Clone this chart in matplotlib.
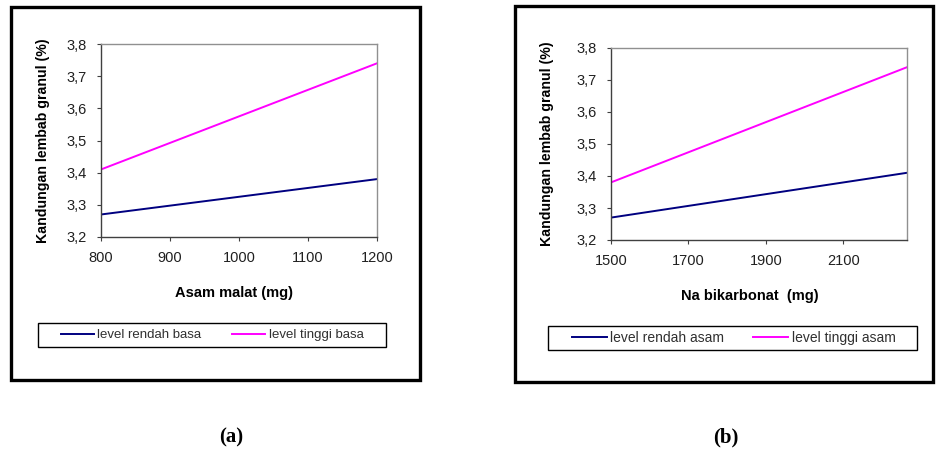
import matplotlib
matplotlib.use("Agg")
import matplotlib.pyplot as plt
from matplotlib.patches import Rectangle

plt.rcParams['font.family'] = ['Liberation Sans', 'DejaVu Sans']

# Panel (a)
x_a = [800, 1200]
low_a = [3.27, 3.38]
high_a = [3.41, 3.74]
xticks_a = [800, 900, 1000, 1100, 1200]
xlabel_a = "Asam malat (mg)"
legend_a = ["level rendah basa", "level tinggi basa"]

# Panel (b)
x_b = [1500, 2265]
low_b = [3.27, 3.41]
high_b = [3.38, 3.74]
xticks_b = [1500, 1700, 1900, 2100]
xlabel_b = "Na bikarbonat  (mg)"
legend_b = ["level rendah asam", "level tinggi asam"]

yticks = [3.2, 3.3, 3.4, 3.5, 3.6, 3.7, 3.8]
ylabel = "Kandungan lembab granul (%)"
captions = ["(a)", "(b)"]

W, H = 936, 455
fig = plt.figure(figsize=(W / 100, H / 100), dpi=100)


def fx(px):
    return px / W


def fy(py):
    return 1 - py / H


def panel(frame, plot, leg_box, leg_x, ylab_x, xlab_xy, x, low, high, xticks, xlabel,
          labels, cap_x, cap, leg_fs, colsp):
    fl, ft, fr, fb = frame
    fig.patches.append(Rectangle((fx(fl), fy(fb)), fx(fr - fl), (fb - ft) / H,
                                 transform=fig.transFigure, facecolor='white',
                                 edgecolor='black', linewidth=2.4, zorder=-5))
    l, t, r, b = plot
    ax = fig.add_axes([fx(l), fy(b), fx(r - l), (b - t) / H], zorder=2)
    ax.plot(x, low, color='#000080', lw=1.4)
    ax.plot(x, high, color='#FF00FF', lw=1.4)
    ax.set_xlim(x[0], x[-1])
    ax.set_ylim(3.2, 3.8)
    ax.set_xticks(xticks)
    ax.set_xticklabels([str(v) for v in xticks])
    ax.set_yticks(yticks)
    ax.set_yticklabels([f"{v:.1f}".replace('.', ',') for v in yticks])
    ax.tick_params(direction='out', length=3, width=0.8, color='#404040',
                   labelsize=10.5, pad=7, labelcolor='#202020')
    for s in ax.spines.values():
        s.set_color('#909090')
        s.set_linewidth(1.0)
    ax.spines['left'].set_color('#404040')
    ax.spines['bottom'].set_color('#404040')
    fig.text(fx(ylab_x), fy((t + b) / 2), ylabel, rotation=90, ha='center', va='center',
             fontsize=10.2, fontweight='bold')
    fig.text(fx(xlab_xy[0]), fy(xlab_xy[1]), xlabel, ha='center', va='center',
             fontsize=10.5, fontweight='bold')
    ll, lt, lr, lb = leg_box
    fig.patches.append(Rectangle((fx(ll), fy(lb)), fx(lr - ll), (lb - lt) / H,
                                 transform=fig.transFigure, facecolor='white',
                                 edgecolor='black', linewidth=1.0, zorder=-4))
    leg = ax.legend(labels, loc='center left', ncol=2,
                    bbox_to_anchor=(fx(leg_x), fy((lt + lb) / 2)),
                    bbox_transform=fig.transFigure, frameon=False,
                    fontsize=leg_fs, handlelength=2.5, columnspacing=colsp,
                    handletextpad=0.25, borderpad=0, borderaxespad=0)
    for txt in leg.get_texts():
        txt.set_color('#303030')
    fig.text(fx(cap_x), fy(437), cap, ha='center', va='center',
             fontsize=15, fontweight='bold', family='Liberation Serif')
    return ax


panel((11, 7, 420, 380), (101, 44, 377, 237), (38, 323, 386, 347), 61, 43, (234, 293),
      x_a, low_a, high_a, xticks_a, xlabel_a, legend_a, 231, captions[0], 9.5, 2.35)
panel((515, 6, 933, 382), (611, 48, 907, 240), (548, 326, 917, 350), 572, 547, (750, 296),
      x_b, low_b, high_b, xticks_b, xlabel_b, legend_b, 726, captions[1], 10, 2.1)

fig.savefig('out.png', dpi=100, facecolor='white')
